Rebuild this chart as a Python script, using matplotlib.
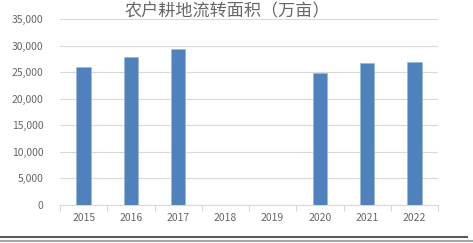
import matplotlib
matplotlib.use("Agg")
import matplotlib.pyplot as plt
from matplotlib.lines import Line2D
from matplotlib.ticker import FuncFormatter

plt.rcParams['font.family'] = ['Noto Sans CJK SC', 'DejaVu Sans']

# 农户耕地流转面积（万亩）
years = ["2015", "2016", "2017", "2018", "2019", "2020", "2021", "2022"]
area = [26030, 27920, 29420, None, None, 24750, 26800, 26950]
yticks = [0, 5000, 10000, 15000, 20000, 25000, 30000, 35000]

W, H = 473, 243
fig = plt.figure(figsize=(W / 100, H / 100), dpi=100)
ax = fig.add_axes([60 / W, 1 - 205 / H, (438 - 60) / W, (205 - 19) / H])

xs = [i for i, v in enumerate(area) if v is not None]
vals = [v for v in area if v is not None]
ax.bar(xs, vals, width=0.31, color="#4f81bd", edgecolor="#9bb5d8", linewidth=0.5, zorder=3)

ax.set_xlim(-0.5, len(years) - 0.5)
ax.set_ylim(0, 35000)
ax.set_yticks(yticks)
ax.yaxis.set_major_formatter(FuncFormatter(lambda v, p: f"{int(v):,}"))
ax.grid(axis="y", color="#d9d9d9", linewidth=0.8, zorder=0)
ax.set_xticks(range(len(years)))
ax.set_xticklabels(years)
# boundary tick marks between categories
ax.set_xticks([i - 0.5 for i in range(len(years) + 1)], minor=True)
ax.tick_params(axis="x", which="major", length=0, pad=6, labelsize=7.5, labelcolor="#666666")
ax.tick_params(axis="x", which="minor", length=4, color="#d9d9d9", width=0.8)
ax.tick_params(axis="y", length=0, pad=12, labelsize=7.5, labelcolor="#666666")
for s in ["left", "right", "top"]:
    ax.spines[s].set_visible(False)
ax.spines["bottom"].set_color("#d9d9d9")
ax.spines["bottom"].set_linewidth(0.8)

fig.text(227 / W, 1 - 11 / H, "农户耕地流转面积（万亩）", ha="center", va="center",
         fontsize=12.3, color="#666666", fontweight="light")

# double rule at the bottom
fig.add_artist(Line2D([0, 467 / W], [1 - 236.5 / H] * 2, color="#5a5a5a", linewidth=1.5))
fig.add_artist(Line2D([0, 1], [1 - 240.5 / H] * 2, color="#a6a6a6", linewidth=1.5))

fig.savefig("out.png", dpi=100)
